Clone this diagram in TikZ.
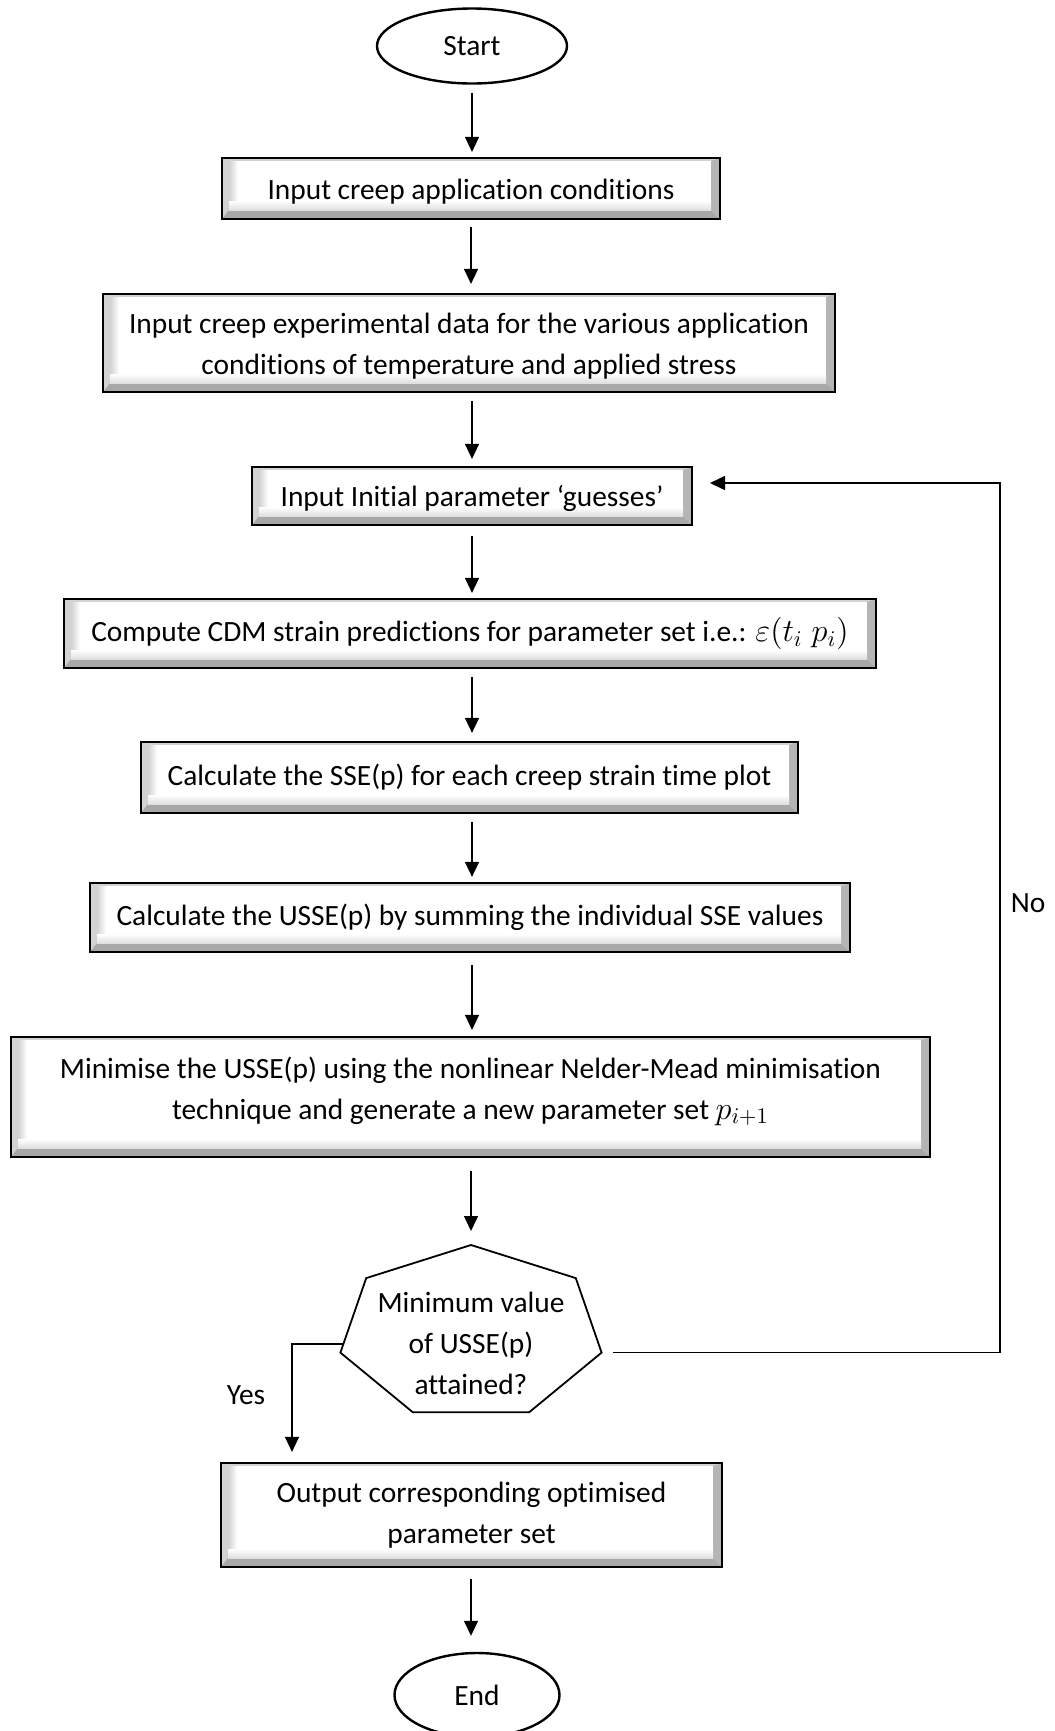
\documentclass[tikz,border=0pt]{standalone}
\usepackage{graphicx}
\usepackage{fontspec}
\setmainfont{Carlito}[Ligatures=NoCommon]
\usetikzlibrary{shapes.geometric,arrows.meta}
\newcommand{\myfs}{\fontsize{14.7}{20.5}\selectfont}
\newcommand{\mymath}[1]{\scalebox{1.12}{$#1$}}
\newcommand{\shiftv}[2]{\raisebox{#1}[\height][\depth]{#2}}
\tikzset{
  bev/.style={draw=black, line width=1.1pt, rectangle, inner sep=0pt, align=center, font=\myfs,
    path picture={
      \coordinate (nw) at (path picture bounding box.north west);
      \coordinate (se) at (path picture bounding box.south east);
      \fill[gray!35] (nw) rectangle (se);
      \fill[gray!68] (nw |- se) -- (se) -- ([xshift=-4.5pt,yshift=4.5pt]se) -- ([xshift=3.5pt,yshift=4.5pt]nw |- se) -- cycle;
      \fill[gray!58] (se) -- (se |- nw) -- ([xshift=-4.5pt,yshift=-1.5pt]se |- nw) -- ([xshift=-4.5pt,yshift=4.5pt]se) -- cycle;
      \fill[white] ([xshift=3.5pt,yshift=-1.5pt]nw) rectangle ([xshift=-4.5pt,yshift=4.5pt]se);
      \shade[left color=gray!35, right color=white] ([xshift=3.5pt,yshift=-1.5pt]nw) rectangle ([xshift=8pt,yshift=4.5pt]nw |- se);
      \shade[top color=white, bottom color=gray!25] ([xshift=3.5pt,yshift=9pt]nw |- se) rectangle ([xshift=-4.5pt,yshift=4.5pt]se);
    }},
  term/.style={draw=black, line width=1.2pt, ellipse, inner sep=0pt, font=\myfs},
  hept/.style={draw=black, line width=0.9pt},
  arr/.style={draw=black, line width=0.7pt, -{Triangle[length=7.5pt,width=7pt]}},
  lbl/.style={font=\myfs, inner sep=0pt},
}
\begin{document}
\begin{tikzpicture}[x=0.5pt,y=-0.5pt]
\useasboundingbox (0,0) rectangle (1055,1731);

\node[term, minimum width=95pt, minimum height=37.5pt] (start) at (472,46) {Start};
\node[bev, minimum width=249pt, minimum height=30.5pt] (b1) at (471,188.5) {\shiftv{-1.5pt}{Input creep application conditions}};
\node[bev, minimum width=366pt, minimum height=49pt] (b2) at (469,343) {\shiftv{-1.5pt}{\begin{tabular}{@{}c@{}}Input creep experimental data for the various application\\conditions of temperature and applied stress\end{tabular}}};
\node[bev, minimum width=220pt, minimum height=29pt] (b3) at (472,496) {\shiftv{-1pt}{Input Initial parameter ‘guesses’}};
\node[bev, minimum width=406pt, minimum height=34.5pt] (b4) at (470,633.5) {Compute CDM strain predictions for parameter set i.e.: \mymath{\varepsilon(t_i\;p_i)}};
\node[bev, minimum width=328.5pt, minimum height=35.5pt] (b5) at (469.5,777.5) {Calculate the SSE(p) for each creep strain time plot};
\node[bev, minimum width=380pt, minimum height=34.5pt] (b6) at (470,917.5) {Calculate the USSE(p) by summing the individual SSE values};
\node[bev, minimum width=459.5pt, minimum height=60pt] (b7) at (470.5,1097) {\shiftv{3.3pt}{\begin{tabular}{@{}c@{}}Minimise the USSE(p) using the nonlinear Nelder-Mead minimisation\\technique and generate a new parameter set \mymath{p_{i+1}}\end{tabular}}};

% decision heptagon
\coordinate (hT) at (471,1245);
\coordinate (hUL) at (366.2,1278.1);
\coordinate (hL) at (340.4,1352.6);
\coordinate (hBL) at (412.9,1412.3);
\coordinate (hBR) at (529.1,1412.3);
\coordinate (hR) at (601.6,1352.6);
\coordinate (hUR) at (575.8,1278.1);
\draw[hept] (hT) -- (hUL) -- (hL) -- (hBL) -- (hBR) -- (hR) -- (hUR) -- cycle;
\node[lbl, align=center] (dec) at (471,1343) {Minimum value\\of USSE(p)\\attained?};
\coordinate (hY) at (343.4,1344);

\node[bev, minimum width=250.5pt, minimum height=52pt] (b8) at (471.5,1515) {Output corresponding optimised\\parameter set};
\node[term, minimum width=82.5pt, minimum height=42pt] (end) at (477,1695) {End};

% main arrows
\draw[arr, shorten <=4pt, shorten >=2.5pt] (start.south) -- (start.south |- b1.north);
\draw[arr, shorten <=3.5pt, shorten >=4.5pt] (b1.south) -- (b1.south |- b2.north);
\draw[arr, shorten <=4pt, shorten >=3.5pt] (b2.south -| b3.north) -- (b3.north);
\draw[arr, shorten <=5pt, shorten >=2.5pt] (b3.south) -- (b3.south |- b4.north);
\draw[arr, shorten <=4pt, shorten >=4pt] (b4.south -| b3.south) -- (b3.south |- b5.north);
\draw[arr, shorten <=4pt, shorten >=2.5pt] (b5.south -| b3.south) -- (b3.south |- b6.north);
\draw[arr, shorten <=6pt, shorten >=3pt] (b6.south -| b3.south) -- (b3.south |- b7.north);
\draw[arr, shorten <=6.5pt, shorten >=7pt] (b7.south -| hT) -- (hT);
\draw[arr, shorten <=5.5pt, shorten >=8pt] (b8.south -| hT) -- (hT |- end.north);

% No loop
\coordinate (nC1) at (1000,1352.6);
\coordinate (nC2) at (1000,483);
\coordinate (nE) at (710,483);
\draw[arr, shorten <=5.5pt] (hR) -- (nC1) -- (nC2) -- (nE);
\node[lbl] (no) at (1028,903) {No};

% Yes branch
\coordinate (yC) at (292,1344);
\draw[arr, shorten >=5pt] (hY) -- (yC) -- (yC |- b8.north);
\node[lbl] (yes) at (246,1395) {Yes};
\end{tikzpicture}
\end{document}
